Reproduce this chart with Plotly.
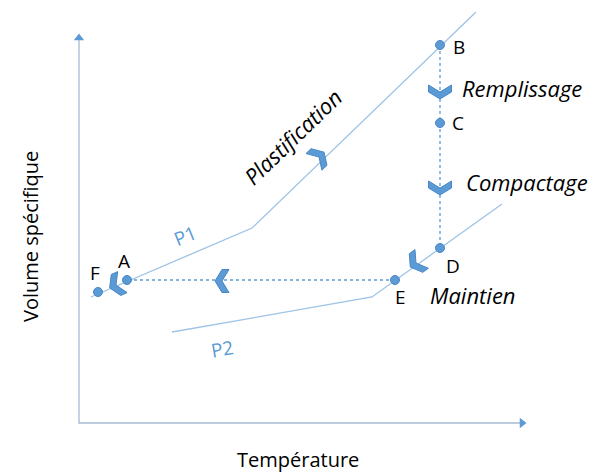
import numpy as np
import plotly.graph_objects as go

# coordinate frame: 1 unit = 1 px, temperature to the right, volume upward
W, H = 599, 473

# axes of the diagram
axis_x = [79, 79, 522]
axis_v = [435, 50, 50]

# isobars (polylines)
p1_t = [91, 252, 476]
p1_v = [176, 245, 461]
p2_t = [172, 372, 502]
p2_v = [141, 176, 269]

# cycle points
pt_names = ['A', 'B', 'C', 'D', 'E', 'F']
pt_t = [127, 440, 440, 440, 395, 98]
pt_v = [193, 428, 350, 225, 193, 181]

# dotted paths B->D and E->A
vert_t = [440, 440]
vert_v = [428, 225]
horiz_t = [395, 127]
horiz_v = [193, 193]

# chevrons: centre and direction of travel
chev_t = [319, 440, 440, 416, 222, 116]
chev_v = [316, 381, 285, 210, 192, 188]
chev_dir = [(1, 0.96), (0, -1), (0, -1), (-1, -0.72), (-1, 0), (-1, -0.45)]

# labels
lbl_text = ['A', 'B', 'C', 'D', 'E', 'F']
lbl_t = [124, 459, 458, 453, 400, 95]
lbl_v = [212, 426, 350, 207, 176, 200]

steps = ['Remplissage', 'Compactage', 'Maintien', 'Plastification']
step_t = [522, 527, 473, 292]
step_v = [385, 291, 178, 336]
step_angle = [0, 0, 0, -44]

iso_names = ['P1', 'P2']
iso_t = [185, 222]
iso_v = [237, 124]
iso_angle = [-22, -10]

LINE = '#9DC3E6'
BLUE = '#5B9BD5'
FONT = 'Open Sans'


def chevron(cx, cy, d, w=23, h=14, t=7):
    u = np.array(d, float)
    u /= np.linalg.norm(u)
    n = np.array([-u[1], u[0]])
    local = [(-w / 2, -h / 2), (0, h / 2 - t), (w / 2, -h / 2),
             (w / 2, -h / 2 + t), (0, h / 2), (-w / 2, -h / 2 + t), (-w / 2, -h / 2)]
    xs = [cx + a * n[0] + b * u[0] for a, b in local]
    ys = [cy + a * n[1] + b * u[1] for a, b in local]
    return xs, ys


fig = go.Figure()

fig.add_trace(go.Scatter(x=axis_x, y=axis_v, mode='lines',
                         line=dict(color='#A7BAD3', width=1.3), hoverinfo='skip'))
fig.add_trace(go.Scatter(x=[axis_x[0]], y=[axis_v[0]], mode='markers',
                         marker=dict(symbol='triangle-up', size=9, color=BLUE), hoverinfo='skip'))
fig.add_trace(go.Scatter(x=[axis_x[-1]], y=[axis_v[-1]], mode='markers',
                         marker=dict(symbol='triangle-right', size=9, color=BLUE), hoverinfo='skip'))

for t, v in [(p1_t, p1_v), (p2_t, p2_v)]:
    fig.add_trace(go.Scatter(x=t, y=v, mode='lines', line=dict(color=LINE, width=1.3)))

for t, v in [(vert_t, vert_v), (horiz_t, horiz_v)]:
    fig.add_trace(go.Scatter(x=t, y=v, mode='lines', line=dict(color=BLUE, width=1.3, dash='dot')))

for cx, cy, d in zip(chev_t, chev_v, chev_dir):
    xs, ys = chevron(cx, cy, d)
    fig.add_trace(go.Scatter(x=xs, y=ys, mode='lines', fill='toself', fillcolor=BLUE,
                             line=dict(color='#4A86C5', width=1)))

fig.add_trace(go.Scatter(x=pt_t, y=pt_v, mode='markers', text=pt_names,
                         marker=dict(size=9, color=BLUE, line=dict(color='#4A86C5', width=1))))

for s, x, y in zip(lbl_text, lbl_t, lbl_v):
    fig.add_annotation(x=x, y=y, text=s, showarrow=False, font=dict(size=19, color='black'))

for s, x, y, a in zip(steps, step_t, step_v, step_angle):
    fig.add_annotation(x=x, y=y, text='<i>' + s + '</i>', showarrow=False, textangle=a,
                       font=dict(size=22, color='black'))

for s, x, y, a in zip(iso_names, iso_t, iso_v, iso_angle):
    fig.add_annotation(x=x, y=y, text=s, showarrow=False, textangle=a,
                       font=dict(size=19, color=BLUE))

fig.add_annotation(x=30, y=236, text='Volume spécifique', showarrow=False, textangle=-90,
                   font=dict(size=20, color='black'))
fig.add_annotation(x=298, y=14, text='Température', showarrow=False,
                   font=dict(size=20, color='black'))

fig.update_layout(
    width=W, height=H,
    margin=dict(l=0, r=0, t=0, b=0),
    paper_bgcolor='white', plot_bgcolor='white',
    showlegend=False,
    font=dict(family=FONT),
    xaxis=dict(range=[0, W], visible=False, fixedrange=True),
    yaxis=dict(range=[0, H], visible=False, fixedrange=True),
)

fig.write_html("out.html", config={'displayModeBar': False},
               post_script="document.body.style.margin='0';")
